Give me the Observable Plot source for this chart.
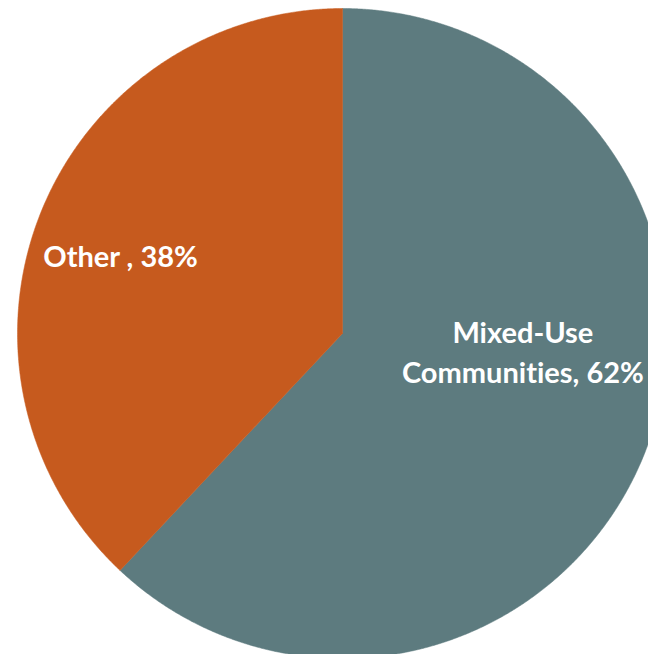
<!DOCTYPE html>
<html>
<head>
<meta charset="utf-8">
<script src="https://cdn.jsdelivr.net/npm/d3@7"></script>
<script src="https://cdn.jsdelivr.net/npm/@observablehq/plot@0.6"></script>
<style>
  html, body { margin: 0; padding: 0; background: #fff; overflow: hidden; }
  #chart { width: 648px; height: 654px; overflow: hidden; }
  #chart svg text { font-variant-ligatures: none; font-feature-settings: "liga" 0, "clig" 0; }
</style>
</head>
<body>
<div id="chart"></div>
<script>
// Data
const categories = ["Mixed-Use Communities", "Other "];
const shares = [62, 38];
const labelLines = [["Mixed-Use", "Communities, 62%"], ["Other , 38%"]];
const colors = ["#5D7B7F", "#C65A1E"];

// Layout (label anchor points in unit-circle coordinates)
const labelPos = [[0.555, -0.051], [-0.683, 0.243]];

// Build slice polygons from the values (clockwise from 12 o'clock)
const total = d3.sum(shares);
const slicePts = [];
let start = 0;
categories.forEach((c, i) => {
  const a0 = start / total * 2 * Math.PI;
  const a1 = (start + shares[i]) / total * 2 * Math.PI;
  slicePts.push({cat: c, x: 0, y: 0});
  const n = Math.max(2, Math.ceil((a1 - a0) / 0.005));
  for (let k = 0; k <= n; k++) {
    const a = a0 + (a1 - a0) * k / n;
    slicePts.push({cat: c, x: Math.sin(a), y: Math.cos(a)});
  }
  slicePts.push({cat: c, x: 0, y: 0});
  start += shares[i];
});

const labels = [];
labelLines.forEach((lines, i) => {
  labels.push({cat: categories[i], text: lines.join("\n"), x: labelPos[i][0], y: labelPos[i][1]});
});

const chart = Plot.plot({
  width: 648,
  height: 654,
  margin: 0,
  style: {fontFamily: "Lato, 'Open Sans', sans-serif", background: "#fff", overflow: "hidden"},
  x: {domain: [-1, 1], range: [17, 667], axis: null},
  y: {domain: [-1, 1], range: [658, 8], axis: null},
  color: {domain: categories, range: colors},
  marks: [
    Plot.line(slicePts, {x: "x", y: "y", z: "cat", fill: "cat", stroke: "cat", strokeWidth: 0.5, curve: "linear"}),
    Plot.text(labels, {x: "x", y: "y", text: "text", fill: "white", fontSize: 29, fontWeight: "bold", lineHeight: 1.38, textAnchor: "middle"})
  ]
});
document.getElementById("chart").appendChild(chart);
</script>
</body>
</html>
